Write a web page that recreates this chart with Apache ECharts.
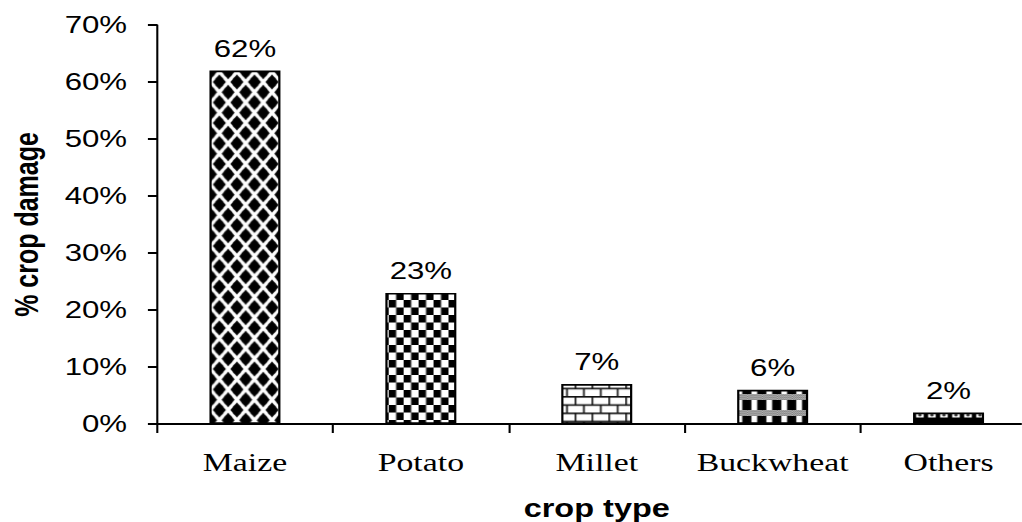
<!DOCTYPE html>
<html>
<head>
<meta charset="utf-8">
<script src="https://cdn.jsdelivr.net/npm/echarts@6/dist/echarts.min.js"></script>
<style>
  html, body { margin: 0; padding: 0; background: #fff; overflow: hidden; }
  #stage { width: 1022px; height: 522px; overflow: hidden; }
  #chart { height: 522px; transform-origin: 0 0; }
</style>
</head>
<body>
<div id="stage"><div id="chart"></div></div>
<script>
// Crop damage by crop type (percent of households reporting damage)
const categories = ['Maize', 'Potato', 'Millet', 'Buckwheat', 'Others'];
const damagePercent = [62, 23, 7, 6, 2];
const yMin = 0;
const yMax = 70;
const yStep = 10;

// The figure is drawn narrow and then widened horizontally, so text and
// hatching come out with the same wide proportions as the printed figure.
const STRETCH = 1.3;
const W = 1022 / STRETCH;
const H = 522;
const BAR_W = 71 / STRETCH;

const host = document.getElementById('chart');
host.style.width = W + 'px';
host.style.transform = 'scaleX(' + STRETCH + ')';

// ---- hatch tiles (drawn at 4x, shown at logical size) ----
function makeTile(w, h, draw) {
  const c = document.createElement('canvas');
  c.width = Math.round(w * 4);
  c.height = Math.round(h * 4);
  const g = c.getContext('2d');
  g.scale(c.width / w, c.height / h);
  draw(g, w, h);
  return { canvas: c, w: w, h: h };
}

// Maize: rounded black diamonds in a checker arrangement
const tileMaize = makeTile(13.5, 20.5, (g, w, h) => {
  g.fillStyle = '#fff'; g.fillRect(0, 0, w, h);
  g.fillStyle = '#000';
  const cw = w / 2, ch = h / 2;
  const sites = [[cw, 0], [0, ch], [w, ch], [cw, h]];
  sites.forEach(([x, y]) => {
    const a = 0.74 * cw, b = 0.74 * ch;
    g.beginPath();
    g.moveTo(x + a, y); g.lineTo(x, y + b); g.lineTo(x - a, y); g.lineTo(x, y - b);
    g.closePath(); g.fill();
    g.beginPath();
    g.ellipse(x, y, 0.55 * cw, 0.55 * ch, 0, 0, Math.PI * 2);
    g.fill();
  });
});

// Potato: small checkerboard
const tilePotato = makeTile(11.5, 15, (g, w, h) => {
  g.fillStyle = '#fff'; g.fillRect(0, 0, w, h);
  g.fillStyle = '#000';
  g.fillRect(0, 0, w / 2, h / 2);
  g.fillRect(w / 2, h / 2, w / 2, h / 2);
  g.fillStyle = 'rgba(120,120,120,0.6)';
  g.fillRect(w / 2 - 0.3, 0, 0.6, h);
  g.fillRect(0, h / 2 - 0.4, w, 0.8);
});

// Millet: brick courses
const tileMillet = makeTile(13, 16.5, (g, w, h) => {
  g.fillStyle = '#fff'; g.fillRect(0, 0, w, h);
  g.fillStyle = '#111';
  const lh = 1.7, lw = 1.3;
  g.fillRect(0, 0, w, lh);
  g.fillRect(0, h / 2, w, lh);
  g.fillRect(0, 0, lw, h / 2);
  g.fillRect(w / 2, h / 2, lw, h / 2);
});

// Buckwheat: black/white columns over a dotted grey band
const tileBuck = makeTile(11.5, 16, (g, w, h) => {
  g.fillStyle = '#000'; g.fillRect(0, 0, w, h);
  g.fillStyle = '#fff'; g.fillRect(3, 0, 4.4, 10);
  g.fillStyle = '#cfcfcf'; g.fillRect(0, 10, w, 6);
  g.fillStyle = '#666';
  for (let yy = 10; yy < 16; yy += 1) {
    for (let xx = ((yy - 10) % 2) * 0.75; xx < w; xx += 1.5) {
      g.fillRect(xx, yy, 0.75, 1);
    }
  }
});

// Others: small white arches on black
const tileOthers = makeTile(9.25, 12, (g, w, h) => {
  g.fillStyle = '#000'; g.fillRect(0, 0, w, h);
  g.fillStyle = '#fff';
  g.beginPath();
  g.moveTo(1.8, 9.5); g.lineTo(1.8, 6.5);
  g.ellipse(w / 2, 6.5, w / 2 - 1.8, 2.6, 0, Math.PI, 0);
  g.lineTo(w - 1.8, 9.5); g.closePath(); g.fill();
  g.fillStyle = '#333';
  g.beginPath(); g.ellipse(w / 2, 7, 1.3, 1.5, 0, 0, Math.PI * 2); g.fill();
});

const tiles = [tileMaize, tilePotato, tileMillet, tileBuck, tileOthers];

function patternAt(t, x, y) {
  return {
    image: t.canvas, repeat: 'repeat',
    imageWidth: t.w, imageHeight: t.h,
    x: x, y: y
  };
}

function seriesData(anchors) {
  return damagePercent.map((v, i) => ({
    value: v,
    itemStyle: {
      color: patternAt(tiles[i], anchors[i][0], anchors[i][1]),
      borderColor: '#000',
      borderWidth: 1.7
    }
  }));
}

const chart = echarts.init(host, null, { renderer: 'svg', width: W, height: H });

const option = {
  animation: false,
  backgroundColor: '#fff',
  grid: {
    left: 157 / STRETCH,
    top: 25,
    width: (1036.5 - 157) / STRETCH,
    height: 399,
    containLabel: false,
    outerBoundsMode: 'none'
  },
  xAxis: {
    type: 'category',
    data: categories,
    axisLine: { lineStyle: { color: '#000', width: 2 } },
    axisTick: { show: true, length: 9, lineStyle: { color: '#000', width: 1.6 } },
    axisLabel: {
      interval: 0,
      margin: 25,
      color: '#000',
      fontFamily: '"Liberation Serif", "Times New Roman", serif',
      fontSize: 26
    },
    name: 'crop type',
    nameLocation: 'middle',
    nameGap: 72,
    nameTextStyle: {
      color: '#000',
      fontFamily: '"Liberation Sans", Arial, sans-serif',
      fontWeight: 'bold',
      fontSize: 25
    }
  },
  yAxis: {
    type: 'value',
    min: yMin,
    max: yMax,
    interval: yStep,
    axisLine: { show: true, lineStyle: { color: '#000', width: 1.6 } },
    axisTick: { show: true, length: 7, lineStyle: { color: '#000', width: 2 } },
    splitLine: { show: false },
    axisLabel: {
      formatter: '{value}%',
      margin: 23,
      color: '#000',
      fontFamily: '"Liberation Sans", Arial, sans-serif',
      fontSize: 24
    },
    name: '% crop damage',
    nameLocation: 'middle',
    nameRotate: 90,
    nameGap: 88,
    nameTextStyle: {
      color: '#000',
      fontFamily: '"Liberation Sans", Arial, sans-serif',
      fontWeight: 'bold',
      fontSize: 25
    }
  },
  series: [{
    type: 'bar',
    barWidth: BAR_W,
    data: seriesData(damagePercent.map(() => [0, 0])),
    label: {
      show: true,
      position: 'top',
      distance: 10,
      formatter: '{c}%',
      color: '#000',
      fontFamily: '"Liberation Sans", Arial, sans-serif',
      fontSize: 24
    }
  }]
};

chart.setOption(option);

// Anchor each hatch at its own bar's top-left corner
const anchors = damagePercent.map((v, i) => {
  const p = chart.convertToPixel({ seriesIndex: 0 }, [i, v]);
  return [p[0] - BAR_W / 2, p[1]];
});
chart.setOption({ series: [{ data: seriesData(anchors) }] });
</script>
</body>
</html>
